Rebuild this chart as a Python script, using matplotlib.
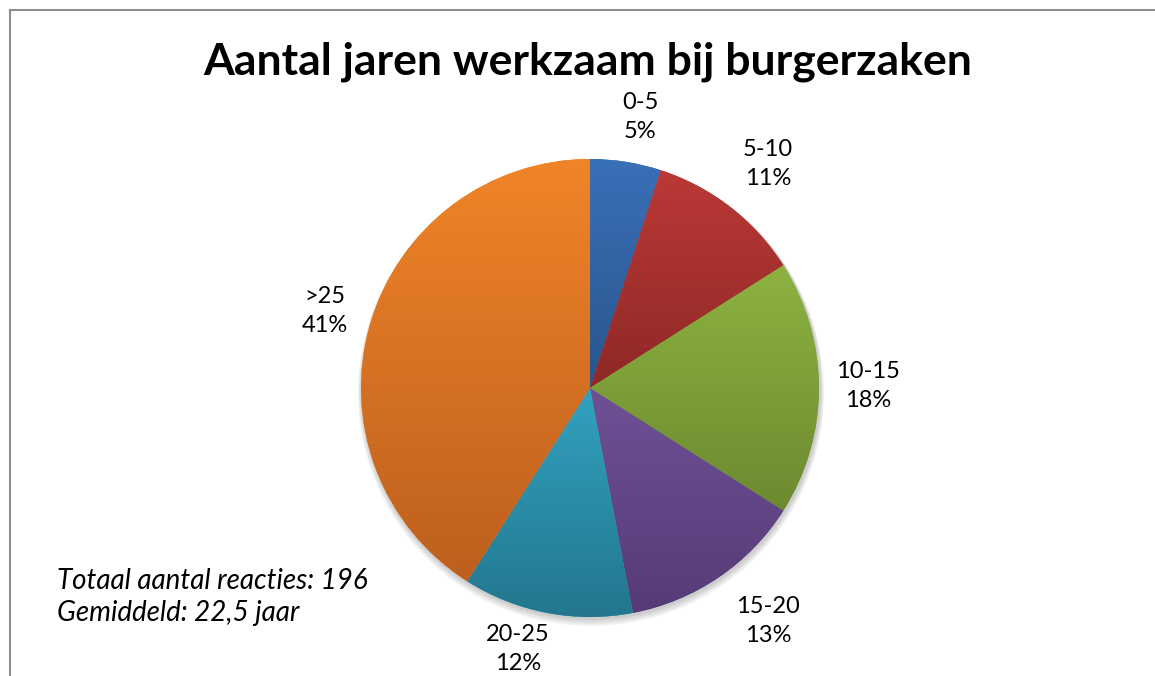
import numpy as np
import matplotlib
matplotlib.use("Agg")
import matplotlib.pyplot as plt
from matplotlib.colors import LinearSegmentedColormap
from matplotlib.lines import Line2D
from matplotlib.patches import Circle

plt.rcParams["font.family"] = ["Lato", "DejaVu Sans"]

# data
categories = ["0-5", "5-10", "10-15", "15-20", "20-25", ">25"]
percentages = [5, 11, 18, 13, 12, 41]
# light (top) / dark (bottom) colour per slice
top_colors = ["#3a70b8", "#bb3937", "#8db241", "#6f5096", "#32a2c0", "#f08428"]
bottom_colors = ["#2a548c", "#8e2826", "#6c8a30", "#553b76", "#23768d", "#bd5f1e"]

title = "Aantal jaren werkzaam bij burgerzaken"
note = "Totaal aantal reacties: 196\nGemiddeld: 22,5 jaar"

W, H = 1155, 676
fig = plt.figure(figsize=(W / 100, H / 100), dpi=100)
ax = fig.add_axes([0, 0, 1, 1])

cx, cy, R = 590, H - 388, 229

# label centres as offsets (px) from the pie centre, Excel-style placement
label_offsets = [(50, 271), (178, 224), (278, 2), (178, -233), (-72, -261), (-265, 77)]

# soft shadow under the pie
for i in range(4):
    ax.add_patch(Circle((cx + 1, cy - 2 - i), R + 1 + i, color="#000000",
                        alpha=0.05, lw=0, zorder=1))

labels = [f"{c}\n{p}%" for c, p in zip(categories, percentages)]
wedges, texts = ax.pie(percentages, labels=labels, startangle=90,
                       counterclock=False, center=(cx, cy), radius=R,
                       frame=True, wedgeprops=dict(linewidth=0),
                       textprops=dict(fontsize=17, color="#000000",
                                      linespacing=1.5))
ax.set_xlim(0, W)
ax.set_ylim(0, H)
ax.set_aspect("equal")
ax.axis("off")

for t, (dx, dy) in zip(texts, label_offsets):
    t.set_ha("center")
    t.set_va("center")
    t.set_position((cx + dx, cy + dy))
    t.set_clip_on(False)

# vertical gradient inside each slice
grad = np.linspace(1, 0, 256).reshape(-1, 1)
for w, c0, c1 in zip(wedges, top_colors, bottom_colors):
    w.set_facecolor(c0)
    w.set_zorder(2)
    verts = w.get_path().vertices
    x0, x1 = verts[:, 0].min(), verts[:, 0].max()
    y0, y1 = verts[:, 1].min(), verts[:, 1].max()
    cmap = LinearSegmentedColormap.from_list("g", [c1, c0])
    im = ax.imshow(grad, cmap=cmap, extent=(x0, x1, y0, y1), origin="upper",
                   aspect="auto", zorder=3, interpolation="bilinear")
    im.set_clip_path(w)
ax.set_xlim(0, W)
ax.set_ylim(0, H)

ax.text(588, H - 62, title, ha="center", va="center", fontsize=32,
        fontweight="bold", color="#000000")
ax.text(57, H - 597, note, ha="left", va="center", fontsize=20,
        style="italic", linespacing=1.3, color="#000000")

# chart frame (top and left edges visible)
fig.add_artist(Line2D([10 / W, 1], [1 - 10 / H, 1 - 10 / H], color="#8c8c8c",
                      lw=1.5, transform=fig.transFigure))
fig.add_artist(Line2D([10 / W, 10 / W], [0, 1 - 10 / H], color="#8c8c8c",
                      lw=1.5, transform=fig.transFigure))

fig.savefig("out.png", dpi=100)
